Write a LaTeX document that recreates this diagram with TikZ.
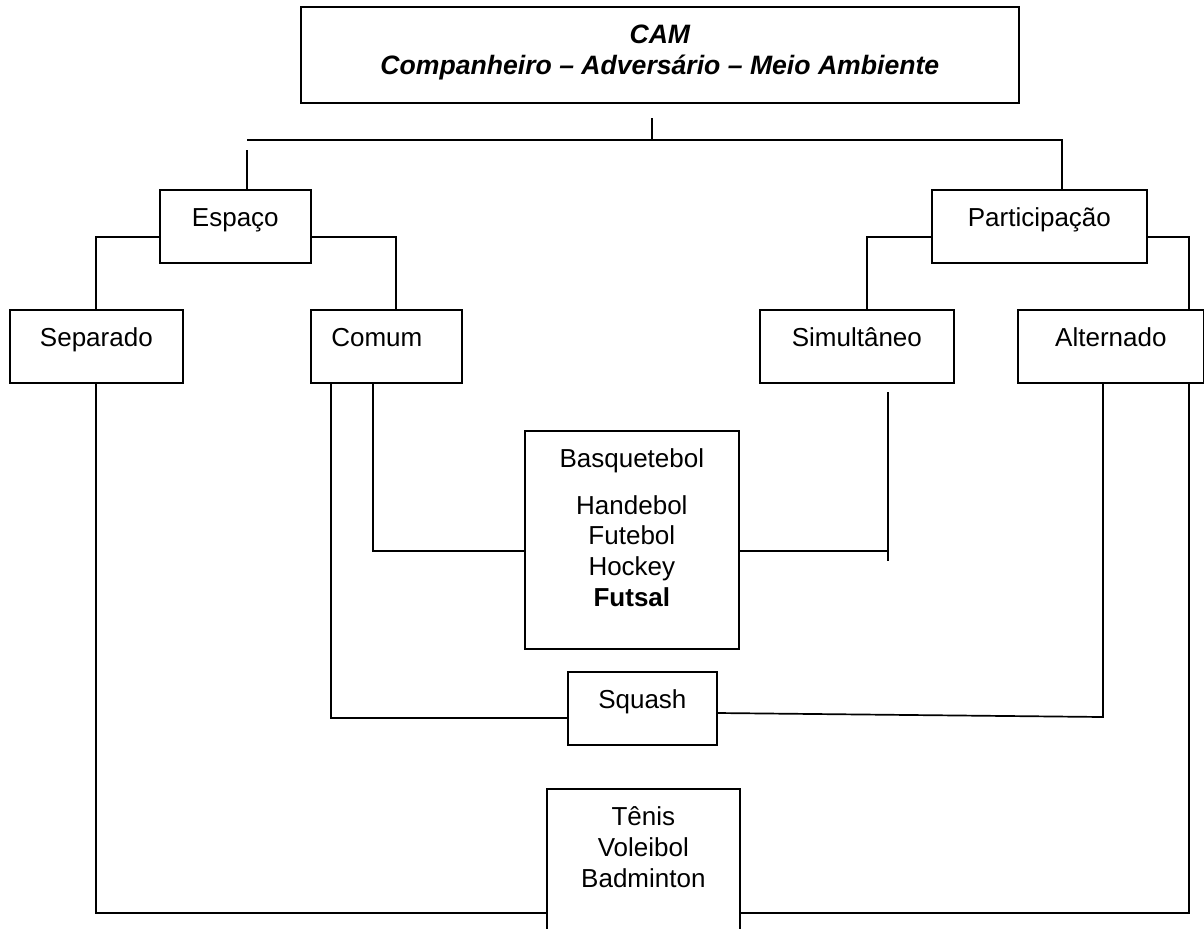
\documentclass[tikz,border=0pt]{standalone}
\usepackage{fontspec}
\setmainfont{Liberation Sans}
\tikzset{
  cxbox/.style={draw, line width=0.85pt, inner sep=0pt, anchor=north west},
  link/.style={line width=0.85pt}
}
\newcommand{\boxtext}[3]{\parbox[c][#2][t]{#1}{\centering\rule{0pt}{18.5pt}#3}}

\begin{document}
\begin{tikzpicture}[x=0.5pt, y=-0.5pt,
    every node/.style={font=\fontsize{13pt}{15.4pt}\selectfont}]
    \useasboundingbox (0,0) rectangle (1204,928);
    \clip (0,0) rectangle (1204,928);
    %% Title
    \node[cxbox] (cam) at (300,6)
      {\boxtext{359pt}{48pt}{\fontsize{13.3pt}{15.2pt}\selectfont\bfseries\itshape CAM\\Companheiro – Adversário – Meio Ambiente}};
    %% First level
    \node[cxbox] (esp) at (159,189) {\boxtext{75.5pt}{36.5pt}{Espaço}};
    \node[cxbox] (part) at (931,189) {\boxtext{107.5pt}{36.5pt}{Participação}};
    %% Second level
    \node[cxbox] (sep) at (9,309) {\boxtext{86.5pt}{36.5pt}{Separado}};
    \node[cxbox] (com) at (310,309) {\boxtext{75.5pt}{36.5pt}{Comum\hspace*{9.5pt}}};
    \node[cxbox] (sim) at (759,309) {\boxtext{97pt}{36.5pt}{Simultâneo}};
    \node[cxbox] (alt) at (1017,309) {\boxtext{93pt}{36.5pt}{Alternado}};
    %% Sports
    \node[cxbox] (basq) at (524,430)
      {\boxtext{107pt}{109pt}{Basquetebol\\[7.7pt]Handebol\\Futebol\\Hockey\\\textbf{Futsal}}};
    \node[cxbox] (squash) at (567,671) {\boxtext{74.5pt}{36.5pt}{Squash}};
    \node[cxbox] (tenis) at (546,788) {\boxtext{96.5pt}{80pt}{Tênis\\Voleibol\\Badminton}};
    %% Free ends
    \coordinate (hubtop) at (652,118);
    \coordinate (hub) at (652,140);
    \coordinate (barL) at (247,140);
    \coordinate (espstub) at (247,150);
    \coordinate (simtick) at (888,392);
    \coordinate (simend) at (888,561);
    \coordinate (sqturn) at (1103,717);
    %% Top bar
    \draw[link] (hubtop) -- (hub);
    \draw[link] (barL) -- (1062,140) -- (part.north -| 1062,0);
    \draw[link] (espstub) -- (esp.north -| espstub);
    %% Branches
    \draw[link] (esp.west |- 0,237) -| (sep.north -| 96,0);
    \draw[link] (esp.east |- 0,237) -| (com.north -| 396,0);
    \draw[link] (part.west |- 0,237) -| (sim.north -| 867,0);
    \draw[link] (part.east |- 0,237) -| (alt.north -| 1189,0);
    %% Down to the sports
    \draw[link] (sep.south -| 96,0) |- (tenis.west |- 0,913);
    \draw[link] (com.south -| 331,0) |- (squash.west |- 0,718);
    \draw[link] (com.south -| 373,0) |- (basq.west |- 0,551);
    \draw[link] (basq.east |- 0,551) -- (simtick |- 0,551);
    \draw[link] (simtick) -- (simend);
    \draw[link] (squash.east |- 0,713) -- (sqturn) -- (alt.south -| sqturn);
    \draw[link] (alt.south -| 1189,0) |- (tenis.east |- 0,913);
\end{tikzpicture}
\end{document}
